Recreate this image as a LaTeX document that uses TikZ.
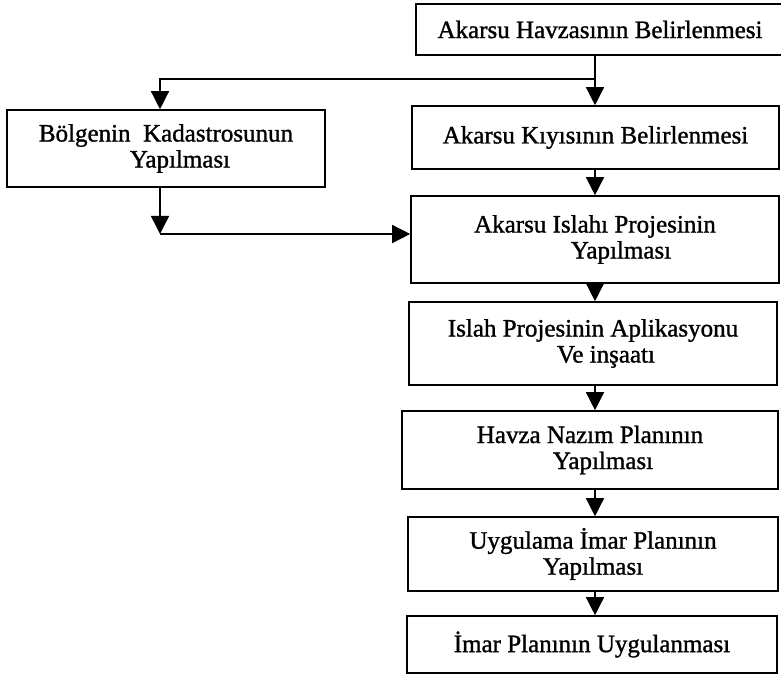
\documentclass[tikz,border=0pt]{standalone}
\usepackage{fontspec}
\setmainfont{Liberation Serif}[FakeBold=1.2]
\usetikzlibrary{arrows.meta}
\begin{document}
\begin{tikzpicture}[x=1pt,y=-1pt,
  box/.style={draw, line width=1.6pt, rectangle, inner sep=0pt, align=center,
    font=\fontsize{25}{26}\selectfont},
  arr/.style={line width=1.4pt, -{Triangle[length=18pt,width=18pt]}}]
\useasboundingbox (0,0) rectangle (781,684);
\node[box, minimum width=368pt, minimum height=51pt] (s0) at (600,29.5) {Akarsu Havzasının Belirlenmesi};
\node[box, minimum width=367pt, minimum height=63pt] (s1) at (595.5,137.5) {Akarsu Kıyısının Belirlenmesi};
\node[box, minimum width=318pt, minimum height=77pt] (s2) at (166,148.5) {Bölgenin\ \ Kadastrosunun\\\hspace*{28pt}Yapılması};
\node[box, minimum width=368pt, minimum height=87pt] (s3) at (595,239.5) {Akarsu Islahı Projesinin\\\hspace*{52pt}Yapılması};
\node[box, minimum width=368pt, minimum height=83pt] (s4) at (593,343.5) {Islah Projesinin Aplikasyonu\\\hspace*{26pt}Ve inşaatı};
\node[box, minimum width=376pt, minimum height=78pt] (s5) at (590,450) {Havza Nazım Planının\\\hspace*{26pt}Yapılması};
\node[box, minimum width=370pt, minimum height=74pt] (s6) at (593,554) {Uygulama İmar Planının\\Yapılması};
\node[box, minimum width=370pt, minimum height=57pt] (s7) at (592,644.5) {İmar Planının Uygulanması};
\coordinate (split) at (595,79);
\coordinate (turn) at (160,234);
\draw[line width=1.4pt] (s0.south -| split) -- (split);
\draw[arr] (split) -- (split -| turn) -- (s2.north -| turn);
\draw[arr] (split) -- (s1.north -| split);
\draw[arr] (s1.south -| split) -- (s3.north -| split);
\draw[arr] (s2.south -| turn) -- (turn);
\draw[arr] (turn) -- (turn -| s3.west);
\draw[arr] (s3.south -| split) -- (s4.north -| split);
\draw[arr] (s4.south -| split) -- (s5.north -| split);
\draw[arr] (s5.south -| split) -- (s6.north -| split);
\draw[arr] (s6.south -| split) -- (s7.north -| split);
\end{tikzpicture}
\end{document}
